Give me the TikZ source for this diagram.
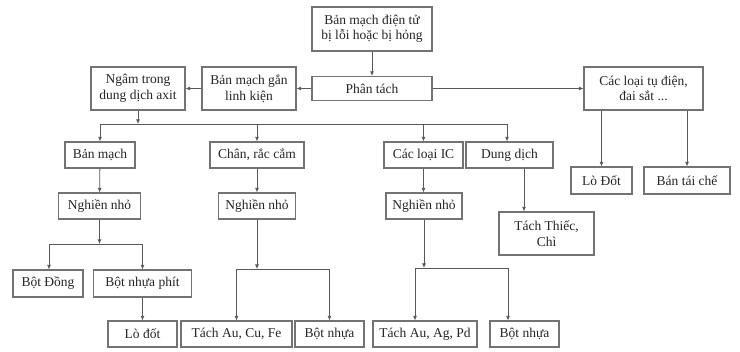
\documentclass[tikz,border=0pt]{standalone}
\usepackage{fontspec}
\setmainfont{Liberation Serif}
\usepackage{tikz}
\usetikzlibrary{arrows.meta}

\begin{document}
\begin{tikzpicture}[x=1pt,y=-1pt,
  box/.style={draw=\cBox, line width=1.1pt, text=\cText, inner sep=0pt,
    align=center, font=\fontsize{13.5}{15.5}\selectfont},
  link/.style={draw=\cLine, line width=0.8pt, -{Latex[length=4.5pt,width=4pt]}}]
\def\cLine{black!65}
\def\cBox{black!55}
\def\cText{black!85}
\useasboundingbox[fill=white] (0,0) rectangle (740,352);
% first row
\node[box, minimum width=120, minimum height=44] (hong) at (372,29) {Bản mạch điện tử\\bị lỗi hoặc bị hỏng};
\node[box, minimum width=120, minimum height=24] (tach) at (372,88.5) {Phân tách};
\node[box, minimum width=94, minimum height=43] (gan) at (249,88.5) {Bản mạch gắn\\linh kiện};
\node[box, minimum width=94, minimum height=43] (ngam) at (138,88.5) {Ngâm trong\\dung dịch axit};
\node[box, minimum width=119, minimum height=43] (tu) at (643.5,88.5) {Các loại tụ điện,\\đai sắt ...};
% second row
\node[box, minimum width=70, minimum height=26] (banmach) at (100,155) {Bản mạch};
\node[box, minimum width=94, minimum height=26] (chan) at (257,155) {Chân, rắc cắm};
\node[box, minimum width=79, minimum height=26] (ic) at (423.5,155) {Các loại IC};
\node[box, minimum width=87, minimum height=26] (dd) at (509.5,155) {Dung dịch};
\node[box, minimum width=61, minimum height=27] (lo) at (601.5,180.5) {Lò Đốt};
\node[box, minimum width=86, minimum height=27] (taiche) at (687,180.5) {Bán tái chế};
% third row
\node[box, minimum width=82, minimum height=26] (nghienA) at (99.5,206) {Nghiền nhỏ};
\node[box, minimum width=77, minimum height=26] (nghienB) at (257,206) {Nghiền nhỏ};
\node[box, minimum width=76, minimum height=26] (nghienC) at (424,206) {Nghiền nhỏ};
\node[box, minimum width=95, minimum height=43] (thiec) at (546.5,233.5) {Tách Thiếc,\\Chì};
% last rows
\node[box, minimum width=70, minimum height=27] (dong) at (48,283.5) {Bột Đồng};
\node[box, minimum width=98, minimum height=27] (phit) at (142.5,283.5) {Bột nhựa phít};
\node[box, minimum width=69, minimum height=26] (lodot) at (142.5,334) {Lò đốt};
\node[box, minimum width=111, minimum height=26] (cu) at (236.5,334) {Tách Au, Cu, Fe};
\node[box, minimum width=69, minimum height=26] (nhuaA) at (329.5,334) {Bột nhựa};
\node[box, minimum width=104, minimum height=26] (ag) at (425,334) {Tách Au, Ag, Pd};
\node[box, minimum width=69, minimum height=26] (nhuaB) at (524.5,334) {Bột nhựa};
% connectors
\draw[link] (hong) -- (tach);
\draw[link] (tach) -- (gan);
\draw[link] (gan) -- (ngam);
\draw[link] (tach) -- (tu);
\coordinate (busA) at (ngam.south |- 0,124);
\draw[link] (ngam.south) -- (busA);
\draw[link] (busA) -| (banmach.north);
\draw[link] (busA) -| (chan.north);
\draw[link] (busA) -| (ic.north);
\draw[link] (busA) -| ([xshift=-2.5]dd.north);
\draw[link] (tu.south -| lo.north) -- (lo.north);
\draw[link] (tu.south -| taiche.north) -- (taiche.north);
\draw[link] (banmach) -- (nghienA);
\draw[link] (chan) -- (nghienB);
\draw[link] (ic) -- (ic |- nghienC.north);
\draw[link] ([xshift=14.5]dd.south) -- (thiec.north -| 524,0);
\coordinate (busB) at (nghienA.south |- 0,244);
\draw[link] (nghienA.south) -- (busB);
\draw[link] (busB) -| ([xshift=1]dong.north);
\draw[link] (busB) -| (phit.north);
\draw[link] (phit) -- (lodot);
\coordinate (busC) at (nghienB.south |- 0,269);
\draw[link] (nghienB.south) -- (busC);
\draw[link] (busC) -| (cu.north);
\draw[link] (busC) -| (nhuaA.north);
\coordinate (busD) at (nghienC.south |- 0,268);
\draw[link] (nghienC.south) -- (busD);
\draw[link] (busD) -| ([xshift=-10]ag.north);
\draw[link] (busD) -| ([xshift=-16.5]nhuaB.north);
\end{tikzpicture}
\end{document}
